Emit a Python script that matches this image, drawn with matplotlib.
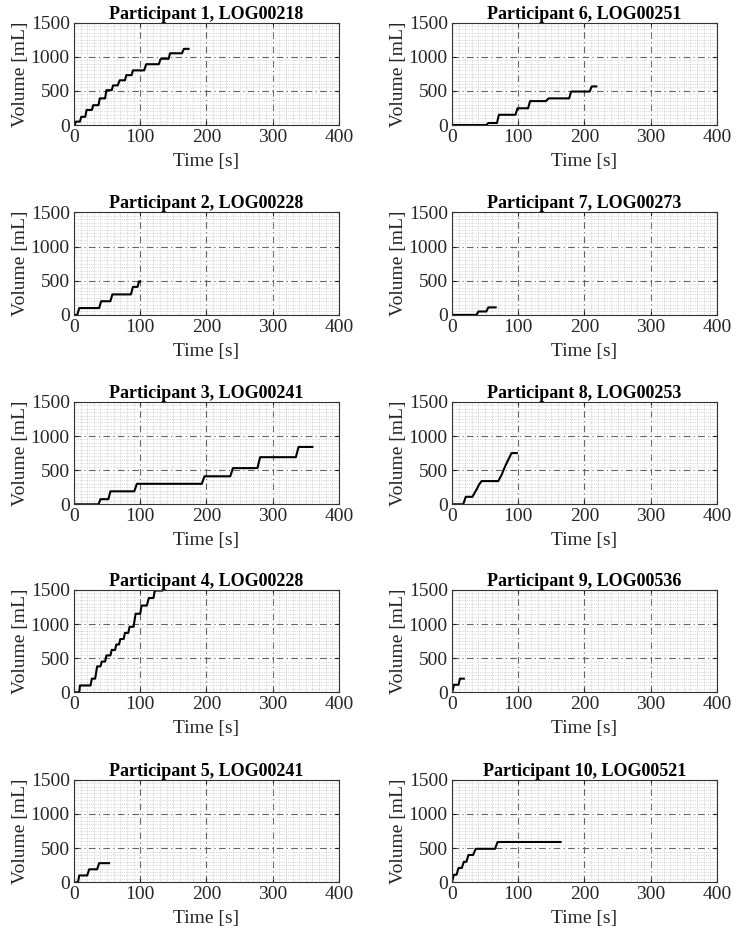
import numpy as np
import matplotlib
matplotlib.use("Agg")
import matplotlib.pyplot as plt
from matplotlib.ticker import MultipleLocator

plt.rcParams['font.family'] = ['Liberation Serif', 'DejaVu Serif']

# Titles of the ten panels (column-major: 1-5 left, 6-10 right)
titles = [
    "Participant 1, LOG00218", "Participant 2, LOG00228", "Participant 3, LOG00241",
    "Participant 4, LOG00228", "Participant 5, LOG00241", "Participant 6, LOG00251",
    "Participant 7, LOG00273", "Participant 8, LOG00253", "Participant 9, LOG00536",
    "Participant 10, LOG00521",
]

# Cumulative volume traces (time [s], volume [mL])
p1_t = [0, 1, 3, 9, 11, 17, 19, 27, 29, 37, 39, 47, 49, 57, 59, 66, 69, 77, 79, 87, 89, 106, 109, 128, 131, 143, 145, 163, 166, 173]
p1_v = [0, 0, 50, 50, 120, 120, 220, 220, 290, 290, 390, 390, 510, 510, 580, 580, 655, 655, 730, 730, 800, 800, 890, 890, 970, 970, 1050, 1050, 1115, 1115]
p2_t = [0, 5, 8, 38, 41, 55, 58, 86, 89, 96, 98, 100]
p2_v = [0, 0, 100, 100, 200, 200, 300, 300, 410, 410, 490, 490]
p3_t = [0, 37, 40, 52, 55, 91, 95, 193, 197, 236, 240, 277, 281, 335, 339, 360]
p3_v = [0, 0, 75, 75, 190, 190, 300, 300, 410, 410, 530, 530, 690, 690, 840, 840]
p4_t = [0, 8, 9, 25, 27, 32, 35, 40, 42, 47, 49, 55, 57, 62, 64, 68, 70, 75, 77, 82, 84, 90, 93, 100, 102, 110, 113, 120, 122, 133]
p4_v = [0, 0, 100, 100, 200, 200, 380, 380, 450, 450, 540, 540, 620, 620, 700, 700, 780, 780, 870, 870, 960, 960, 1150, 1150, 1270, 1270, 1380, 1380, 1490, 1490]
p5_t = [0, 6, 8, 20, 23, 35, 38, 53]
p5_v = [0, 0, 100, 100, 190, 190, 280, 280]
p6_t = [0, 52, 55, 68, 71, 96, 99, 115, 118, 142, 146, 177, 180, 208, 211, 218]
p6_v = [0, 0, 30, 30, 150, 150, 245, 245, 350, 350, 390, 390, 490, 490, 565, 565]
p7_t = [0, 37, 40, 52, 55, 66]
p7_v = [0, 0, 50, 50, 110, 110]
p8_t = [0, 17, 21, 31, 35, 38, 41, 45, 70, 75, 80, 85, 90, 98]
p8_v = [0, 0, 110, 110, 180, 230, 290, 340, 340, 430, 550, 650, 750, 750]
p9_t = [0, 1, 3, 10, 12, 18]
p9_v = [0, 20, 110, 110, 200, 200]
p10_t = [0, 3, 7, 10, 15, 18, 22, 25, 32, 36, 65, 69, 164]
p10_v = [0, 110, 110, 210, 210, 300, 300, 400, 400, 490, 490, 590, 590]

times = [p1_t, p2_t, p3_t, p4_t, p5_t, p6_t, p7_t, p8_t, p9_t, p10_t]
volumes = [p1_v, p2_v, p3_v, p4_v, p5_v, p6_v, p7_v, p8_v, p9_v, p10_v]

fig = plt.figure(figsize=(7.36, 9.4), dpi=100)

lefts = [0.1005, 0.614]
bottoms = [0.867, 0.665, 0.4635, 0.2635, 0.0614]
w, h = 0.360, 0.109

for k in range(10):
    col, row = divmod(k, 5)
    ax = fig.add_axes([lefts[col], bottoms[row], w, h])
    ax.plot(times[k], volumes[k], color="black", lw=1.5)
    ax.set_xlim(0, 400)
    ax.set_ylim(0, 1500)
    ax.xaxis.set_major_locator(MultipleLocator(100))
    ax.yaxis.set_major_locator(MultipleLocator(500))
    ax.xaxis.set_minor_locator(MultipleLocator(10))
    ax.yaxis.set_minor_locator(MultipleLocator(50))
    ax.grid(which="major", color="0.4", linestyle=(0, (6, 3, 1, 3)), lw=0.8)
    ax.grid(which="minor", color="0.72", linestyle=":", lw=0.5)
    ax.tick_params(which="both", direction="in", labelsize=14, colors="0.15",
                   top=True, right=True)
    ax.tick_params(which="major", length=3, pad=3)
    ax.tick_params(which="minor", length=0)
    for s in ax.spines.values():
        s.set_color("0.2")
        s.set_linewidth(0.8)
    ax.set_xlabel("Time [s]", fontsize=14, color="0.15", labelpad=5)
    ax.set_ylabel("Volume [mL]", fontsize=14, color="0.15", labelpad=1)
    ax.set_title(titles[k], fontsize=13, fontweight="bold", pad=2)

fig.savefig("out.png", dpi=100)
